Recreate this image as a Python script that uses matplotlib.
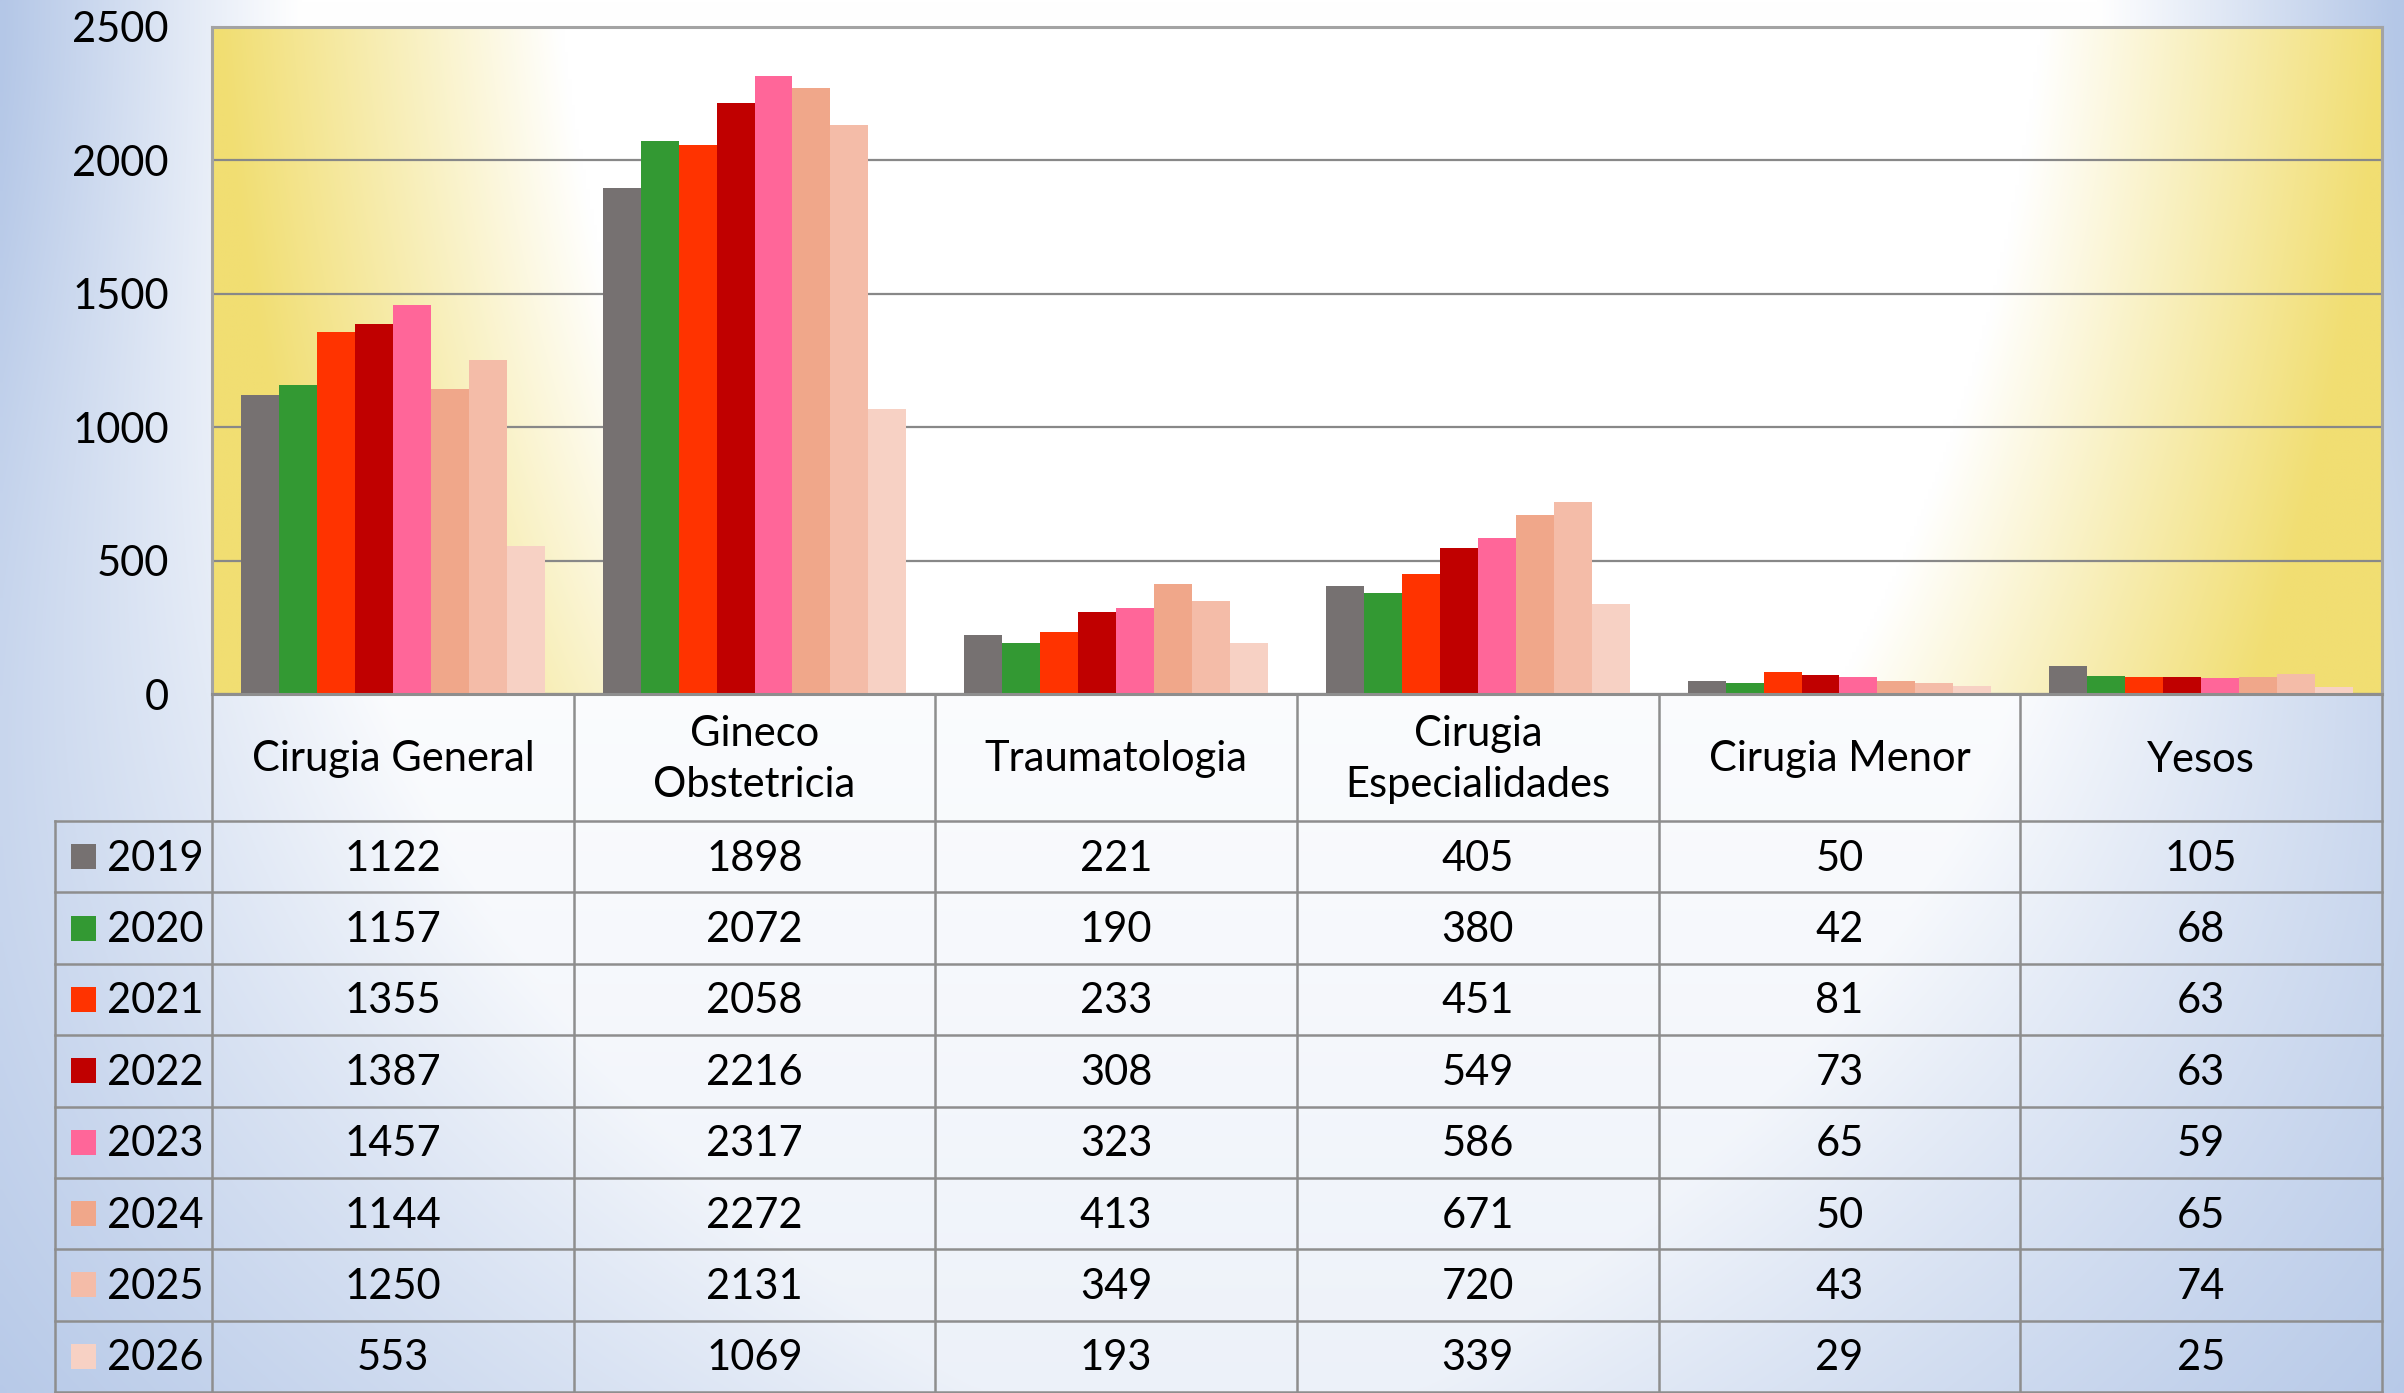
import numpy as np
import matplotlib.pyplot as plt
from matplotlib.colors import to_rgb

plt.rcParams['font.family'] = ['Lato', 'DejaVu Sans']

# ---------- Datos ----------
servicios = ["Cirugia General", "Gineco\nObstetricia", "Traumatologia",
             "Cirugia\nEspecialidades", "Cirugia Menor", "Yesos"]
anios = ["2019", "2020", "2021", "2022", "2023", "2024", "2025", "2026"]

v2019 = [1122, 1898, 221, 405, 50, 105]
v2020 = [1157, 2072, 190, 380, 42, 68]
v2021 = [1355, 2058, 233, 451, 81, 63]
v2022 = [1387, 2216, 308, 549, 73, 63]
v2023 = [1457, 2317, 323, 586, 65, 59]
v2024 = [1144, 2272, 413, 671, 50, 65]
v2025 = [1250, 2131, 349, 720, 43, 74]
v2026 = [553, 1069, 193, 339, 29, 25]
series = [v2019, v2020, v2021, v2022, v2023, v2024, v2025, v2026]

colores = ["#767171", "#339933", "#FF3300", "#C00000",
           "#FF6699", "#F0A78A", "#F4BCA8", "#F7D1C4"]

y_ticks = [0, 500, 1000, 1500, 2000, 2500]

# ---------- Layout (pixeles) ----------
W, H = 2404, 1393
PL, PR, PT, PB = 212, 2382, 27, 694     # area de grafico
TL = 55                                 # borde izq. columna leyenda
HDR = 821                               # fondo fila encabezado
TB = 1392                               # fondo tabla
FS = 30
GRIS = "#8E8E8E"

fig = plt.figure(figsize=(W / 100, H / 100), dpi=100)

# ---------- Fondo azul degradado ----------
bg = fig.add_axes([0, 0, 1, 1], zorder=-5)
X, Y = np.meshgrid(np.linspace(0, W, 481), np.linspace(0, H, 279))
u = Y / H
s = 900 - 680 * u ** 3
w = 300 + 1100 * u ** 2
f = np.clip((np.abs(X - 1200) - s) / w, 0, 1) + 0.25 * u ** 2
f = np.clip(f, 0, 1)[..., None]
azul = np.array(to_rgb("#B4C7E7"))
bg.imshow((1 - f) * 1.0 + f * azul, extent=(0, W, H, 0), aspect='auto',
          interpolation='bilinear')
bg.set_axis_off()

# ---------- Grafico de barras ----------
ax = fig.add_axes([PL / W, 1 - PB / H, (PR - PL) / W, (PB - PT) / H], zorder=1)
Xp, Yp = np.meshgrid(np.linspace(PL, PR, 600), np.linspace(PT, PB, 200))
t = np.sqrt(((Xp - 1302) / 769) ** 2 + ((Yp + 200) / 1291) ** 2)
fy = np.clip((t - 0.98) / 0.44, 0, 1)[..., None]
amarillo = np.array(to_rgb("#F1DE72"))
ax.imshow((1 - fy) * 1.0 + fy * amarillo, extent=(0, 6, 0, 2500),
          aspect='auto', interpolation='bilinear', zorder=0)

n = len(series)
ancho = 0.84 / n
x = np.arange(len(servicios)) + 0.5
for j, (vals, col) in enumerate(zip(series, colores)):
    ax.bar(x + (j - (n - 1) / 2) * ancho, vals, width=ancho, color=col,
           zorder=2, linewidth=0)

ax.set_xlim(0, 6)
ax.set_ylim(0, 2500)
ax.set_yticks(y_ticks)
ax.set_yticklabels([str(v) for v in y_ticks], fontsize=FS)
ax.set_xticks([])
ax.tick_params(axis='y', length=0, pad=31)
ax.set_axisbelow(True)
ax.yaxis.grid(True, color="#888888", linewidth=1.6)
for sp in ax.spines.values():
    sp.set_color("#A3A3A3")
    sp.set_linewidth(2.2)
ax.spines['bottom'].set_color(GRIS)

# ---------- Tabla de datos ----------
tb = fig.add_axes([0, 0, 1, 1], zorder=2)
tb.set_xlim(0, W)
tb.set_ylim(H, 0)
tb.set_axis_off()

cw = (PR - PL) / len(servicios)
rh = (TB - HDR) / len(anios)
lw = 1.8

for k in range(len(servicios) + 1):
    tb.plot([PL + k * cw] * 2, [PB, TB], color=GRIS, lw=lw)
tb.plot([TL, TL], [HDR, TB], color=GRIS, lw=lw)
for r in range(len(anios) + 1):
    tb.plot([TL, PR], [HDR + r * rh] * 2, color=GRIS, lw=lw)

for k, nombre in enumerate(servicios):
    tb.text(PL + (k + 0.5) * cw, (PB + HDR) / 2 + 2, nombre, ha='center',
            va='center', fontsize=FS, linespacing=1.45, color='black')

for r, (anio, vals, col) in enumerate(zip(anios, series, colores)):
    yc = HDR + (r + 0.5) * rh
    tb.fill([71, 96, 96, 71], [yc - 12.5, yc - 12.5, yc + 12.5, yc + 12.5],
            color=col, lw=0)
    tb.text(107, yc + 2, anio, ha='left', va='center', fontsize=FS)
    for k, v in enumerate(vals):
        tb.text(PL + (k + 0.5) * cw, yc + 2, str(v), ha='center', va='center',
                fontsize=FS)

fig.savefig("out.png", dpi=100)
